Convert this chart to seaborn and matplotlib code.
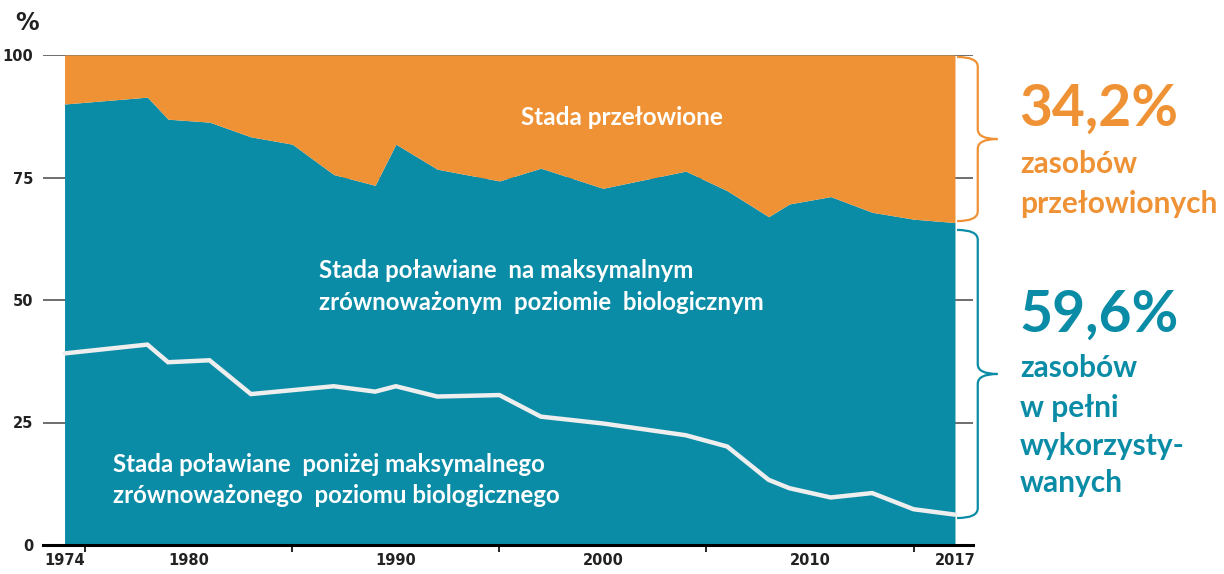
import numpy as np
import pandas as pd
import seaborn as sns
import matplotlib.pyplot as plt
from matplotlib.path import Path
from matplotlib.patches import PathPatch
from matplotlib import font_manager

# Shares of fish stocks (%)
years = [1974, 1978, 1979, 1981, 1983, 1985, 1987, 1989, 1990, 1992, 1995,
         1997, 2000, 2004, 2006, 2008, 2009, 2011, 2013, 2015, 2017]
underfished = [39.1, 40.9, 37.3, 37.7, 30.8, 31.6, 32.4, 31.3, 32.4, 30.3, 30.6,
               26.2, 24.8, 22.4, 20.1, 13.3, 11.6, 9.7, 10.6, 7.3, 6.2]
max_sustainable = [50.9, 50.5, 49.6, 48.6, 52.5, 50.2, 43.2, 42.1, 49.4, 46.4, 43.7,
                   50.7, 48.0, 53.9, 52.2, 53.7, 58.0, 61.4, 57.3, 59.2, 59.6]
overfished = [10.0, 8.6, 13.1, 13.7, 16.7, 18.2, 24.4, 26.6, 18.2, 23.3, 25.7,
              23.1, 27.2, 23.7, 27.7, 33.0, 30.4, 28.9, 32.1, 33.5, 34.2]

y_ticks = [0, 25, 50, 75, 100]
x_labels = [1974, 1980, 1990, 2000, 2010, 2017]
x_minor = [1975, 1980, 1985, 1990, 1995, 2000, 2005, 2010, 2015]

TEAL = "#0B8CA6"
ORANGE = "#EF9235"
W, H = 1224, 574

sns.set_theme(style="white")
plt.rcParams["font.family"] = ["Lato", "DejaVu Sans"]

names = {f.name for f in font_manager.fontManager.ttflist}
tick_font = "Liberation Sans Narrow" if "Liberation Sans Narrow" in names else "DejaVu Sans"

df = pd.DataFrame({"year": years, "under": underfished,
                   "maxs": max_sustainable, "over": overfished})
df["fully"] = df["under"] + df["maxs"]
df["top"] = df["fully"] + df["over"]

fig = plt.figure(figsize=(W / 100, H / 100), dpi=100)
ax = fig.add_axes([43 / W, 1 - 545 / H, (973 - 43) / W, (545 - 55) / H])

# grid lines behind the areas
for yv in y_ticks[1:]:
    ax.axhline(yv, color="#555555", lw=1.2, zorder=0)

ax.fill_between(df["year"], 0, df["fully"], color=TEAL, lw=0, zorder=1)
ax.fill_between(df["year"], df["fully"], df["top"], color=ORANGE, lw=0, zorder=1)
sns.lineplot(data=df, x="year", y="under", color="#EEEEEE", lw=3.2, ax=ax,
             zorder=3, solid_joinstyle="miter")

ax.set_xlim(1972.96, 2017.87)
ax.set_ylim(0, 100)
ax.set_xlabel("")
ax.set_ylabel("")

for s in ["top", "right", "left"]:
    ax.spines[s].set_visible(False)
ax.spines["bottom"].set_color("black")
ax.spines["bottom"].set_linewidth(2.2)
ax.spines["bottom"].set_zorder(4)

ax.set_yticks(y_ticks)
ax.set_yticklabels([str(v) for v in y_ticks], fontfamily=tick_font,
                   fontsize=10.5, fontweight="bold", color="#222222")
ax.tick_params(axis="y", length=0, pad=7)
ax.set_xticks(x_labels)
ax.set_xticklabels([str(v) for v in x_labels], fontfamily=tick_font,
                   fontsize=10.5, fontweight="bold", color="#222222")
ax.set_xticks(x_minor, minor=True)
ax.tick_params(axis="x", which="major", length=0, pad=6)
ax.tick_params(axis="x", which="minor", length=5, width=1.2, color="black",
               bottom=True)


def label(x, y, s, **kw):
    # place one line of text by its pixel position (left, baseline)
    fig.text(x / W, 1 - y / H, s, va="baseline", fontweight="bold", **kw)


# labels inside the areas
label(113, 472, "Stada poławiane  poniżej maksymalnego", color="white", fontsize=17.3)
label(113, 503, "zrównoważonego  poziomu biologicznego", color="white", fontsize=17.3)
label(319, 278, "Stada poławiane  na maksymalnym", color="white", fontsize=17.3)
label(319, 310, "zrównoważonym  poziomie  biologicznym", color="white", fontsize=17.3)
label(521, 125, "Stada przełowione", color="white", fontsize=17.5)

label(15, 30, "%", fontsize=17, color="#222222", family="DejaVu Sans")


def brace(y0, y1, color):
    # curly brace to the right of the plot, in data coords
    x0, x1, xt = 2017.1, 2018.1, 2019.05
    ym = (y0 + y1) / 2
    r = 1.0
    verts = [(x0, y1), (x1, y1), (x1, y1 - 2 * r),
             (x1, ym + 2 * r), (x1, ym), (xt, ym),
             (x1, ym), (x1, ym - 2 * r),
             (x1, y0 + 2 * r), (x1, y0), (x0, y0)]
    codes = [Path.MOVETO, Path.CURVE3, Path.CURVE3,
             Path.LINETO, Path.CURVE3, Path.CURVE3,
             Path.CURVE3, Path.CURVE3,
             Path.LINETO, Path.CURVE3, Path.CURVE3]
    ax.add_patch(PathPatch(Path(verts, codes), fill=False, edgecolor=color,
                           lw=1.6, clip_on=False, zorder=5))


brace(100 - overfished[-1] + 0.3, 99.6, ORANGE)
brace(underfished[-1] - 0.7, underfished[-1] + max_sustainable[-1] - 1.5, TEAL)

# side annotations
label(1019, 126, "34,2%", color=ORANGE, fontsize=41)
label(1020, 173, "zasobów", color=ORANGE, fontsize=21.5)
label(1020, 213, "przełowionych", color=ORANGE, fontsize=21.5)
label(1019, 332, "59,6%", color=TEAL, fontsize=41)
label(1020, 377, "zasobów", color=TEAL, fontsize=21.5)
label(1020, 417, "w pełni", color=TEAL, fontsize=21.5)
label(1020, 455, "wykorzysty-", color=TEAL, fontsize=21.5)
label(1020, 492, "wanych", color=TEAL, fontsize=21.5)

fig.savefig("out.png", dpi=100)
